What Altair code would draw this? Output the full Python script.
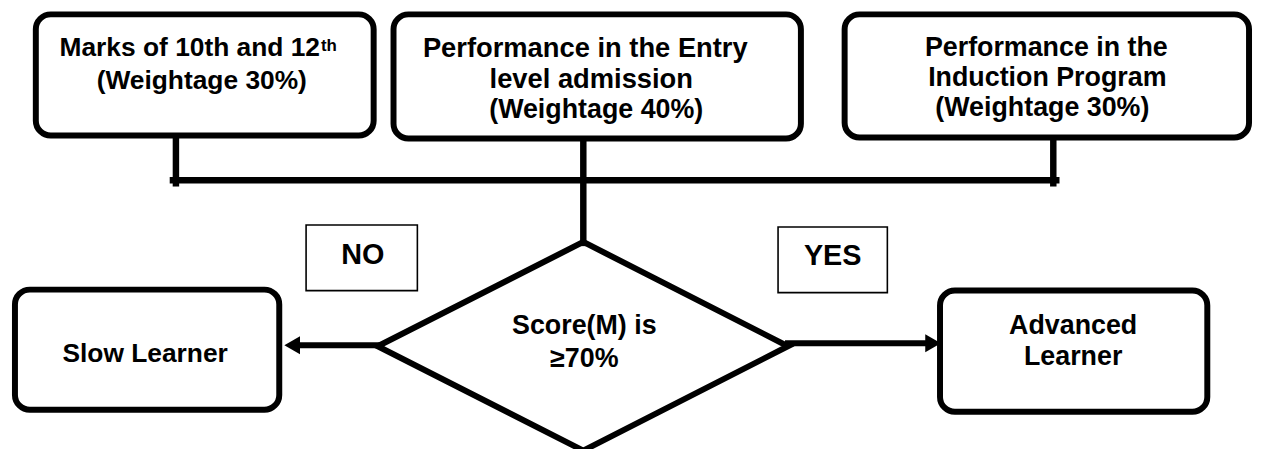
import altair as alt
import pandas as pd

# ---- rounded boxes (stroke-centre extents, in picture pixels) ----
box_names = ["marks", "entry", "induction", "slow", "advanced"]
box_x1 = [36, 396, 850, 15, 946]
box_x2 = [376, 806, 1257, 281, 1215]
box_y1 = [13, 13, 13, 290, 291]
box_y2 = [135, 138, 137, 411, 413]

# ---- thin label boxes ----
tag_names = ["NO", "YES"]
tag_x1 = [308, 783]
tag_x2 = [420, 893]
tag_y1 = [225, 227]
tag_y2 = [291, 293]

# ---- connector segments ----
seg_x1 = [177, 174, 587, 1060, 302, 793]
seg_x2 = [177, 1063, 587, 1060, 380, 932]
seg_y1 = [136, 180, 138, 136, 346, 344]
seg_y2 = [183, 180, 243, 183, 346, 344]
seg_w = [6.5, 6.5, 6.5, 6.5, 6, 6]

# ---- decision diamond (top, right, bottom, left, top) ----
dia_x = [587, 793, 587, 380, 587]
dia_y = [242, 347, 452, 347, 242]

# ---- arrow heads ----
head_x = [294, 939]
head_y = [346, 344]
head_shape = ["triangle-left", "triangle-right"]

# ---- texts ----
txt_text = ["(Weightage 30%)",
            "Performance in the Entry", "level admission", "(Weightage 40%)",
            "Performance in the", "Induction Program", "(Weightage 30%)",
            "NO", "YES", "Score(M) is", "≥70%",
            "Slow Learner", "Advanced", "Learner"]
txt_x = [203, 589, 595, 600, 1053, 1054, 1049, 365, 838, 588, 588, 146, 1080, 1080]
txt_y = [88, 56, 87, 117, 55, 85, 115, 264, 265, 335, 368, 363, 335, 366]
txt_size = [26.5, 27.5, 27.5, 27, 27, 27, 27, 29, 29, 27, 27, 26.5, 27, 27]

sup_main = "Marks of 10th and 12"
sup_text = "th"

X_DOM = [8, 1262]
Y_DOM = [8, 449]

def xs(f):
    return alt.X(f, type="quantitative", scale=alt.Scale(domain=X_DOM, nice=False, zero=False), axis=None)

def ys(f):
    return alt.Y(f, type="quantitative", scale=alt.Scale(domain=Y_DOM, nice=False, zero=False, reverse=True), axis=None)

boxes = pd.DataFrame({"name": box_names, "x1": box_x1, "x2": box_x2, "y1": box_y1, "y2": box_y2})
tags = pd.DataFrame({"name": tag_names, "x1": tag_x1, "x2": tag_x2, "y1": tag_y1, "y2": tag_y2})
segs = pd.DataFrame({"x1": seg_x1, "x2": seg_x2, "y1": seg_y1, "y2": seg_y2, "w": seg_w})
dia = pd.DataFrame({"x": dia_x, "y": dia_y, "o": list(range(len(dia_x)))})
heads = pd.DataFrame({"x": head_x, "y": head_y, "shape": head_shape})
texts = pd.DataFrame({"t": txt_text, "x": txt_x, "y": txt_y, "s": txt_size})
sup = pd.DataFrame({"t": [sup_main, sup_text], "x": [322, 323], "y": [55, 50], "s": [26.5, 17]})

FONT = "Liberation Sans"

seg_layer = alt.Chart(segs).mark_rule(color="black", strokeCap="square").encode(
    x=xs("x1"), x2="x2", y=ys("y1"), y2="y2",
    strokeWidth=alt.StrokeWidth("w:Q", scale=None))

dia_layer = alt.Chart(dia).mark_line(color="black", strokeWidth=6, strokeJoin="miter").encode(
    x=xs("x"), y=ys("y"), order="o:Q")

box_layer = alt.Chart(boxes).mark_rect(fill="white", stroke="black", strokeWidth=6,
                                       cornerRadius=15).encode(
    x=xs("x1"), x2="x2", y=ys("y1"), y2="y2")

tag_layer = alt.Chart(tags).mark_rect(fill="white", stroke="black", strokeWidth=1.6).encode(
    x=xs("x1"), x2="x2", y=ys("y1"), y2="y2")

head_layer = alt.Chart(heads).mark_point(filled=True, color="black", opacity=1, size=330).encode(
    x=xs("x"), y=ys("y"), shape=alt.Shape("shape:N", scale=None))

text_layer = alt.Chart(texts).mark_text(font=FONT, fontWeight="bold", color="black",
                                        align="center", baseline="alphabetic").encode(
    x=xs("x"), y=ys("y"), text="t:N", size=alt.Size("s:Q", scale=None))

sup_main_layer = alt.Chart(sup.iloc[[0]]).mark_text(font=FONT, fontWeight="bold", color="black",
                                                   align="right", baseline="alphabetic").encode(
    x=xs("x"), y=ys("y"), text="t:N", size=alt.Size("s:Q", scale=None))

sup_layer = alt.Chart(sup.iloc[[1]]).mark_text(font=FONT, fontWeight="bold", color="black",
                                              align="left", baseline="alphabetic").encode(
    x=xs("x"), y=ys("y"), text="t:N", size=alt.Size("s:Q", scale=None))

chart = alt.layer(seg_layer, dia_layer, box_layer, tag_layer, head_layer,
                  text_layer, sup_main_layer, sup_layer).properties(
    width=1254, height=441,
    autosize=alt.AutoSizeParams(type="none"),
    padding=0,
    background="white",
).configure_view(stroke=None)

chart.save("out.html", embed_options={"renderer": "svg", "actions": False})
